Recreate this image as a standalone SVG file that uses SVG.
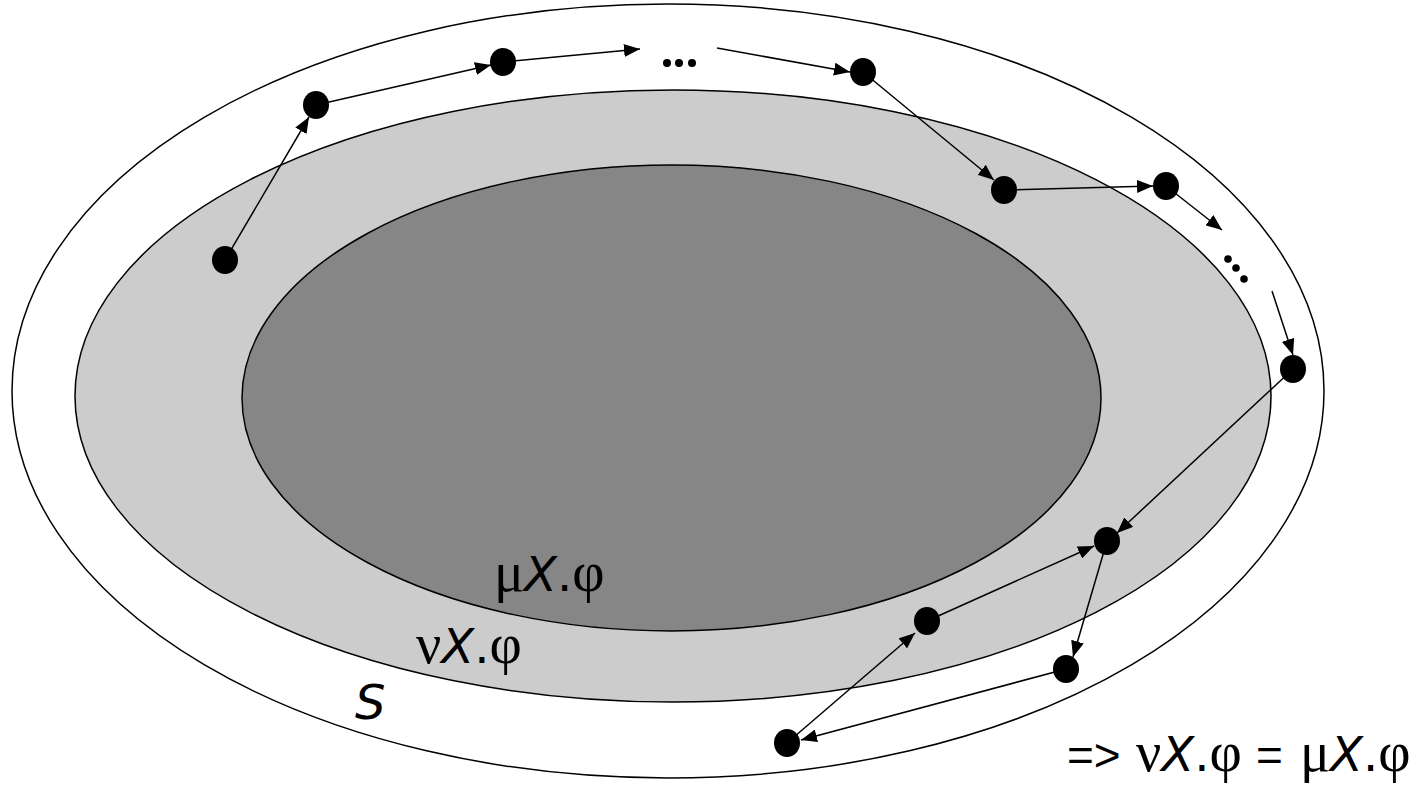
<svg xmlns="http://www.w3.org/2000/svg" width="1427" height="787" viewBox="0 0 1427 787">
<defs>
<marker id="ah" markerUnits="userSpaceOnUse" markerWidth="17" markerHeight="13" refX="16" refY="6.5" orient="auto">
<path d="M0,0 L16,6.5 L0,13 Z" fill="#000"/>
</marker>
<style>
.reg{stroke:#000;stroke-width:1.5}
.dot{fill:#000}
.e{stroke:#000;stroke-width:1.5;fill:none;marker-end:url(#ah)}
.t{font-family:"DejaVu Sans",sans-serif;font-size:48px;fill:#000}
.g{font-family:"Liberation Serif",serif;font-size:56px}
.i{font-style:italic}
.o{font-family:"Liberation Sans",sans-serif;font-size:46px}
</style>
</defs>
<rect width="1427" height="787" fill="#fff"/>
<g id="S"><ellipse class="reg" cx="668" cy="391" rx="656" ry="387" fill="#fff"/></g>
<g id="nu"><ellipse class="reg" cx="673" cy="396" rx="598" ry="306" fill="#cccccc"/></g>
<g id="mu"><ellipse class="reg" cx="671.5" cy="398" rx="429.5" ry="233" fill="#868686"/></g>
<g id="labels">
<text class="t" x="494" y="591"><tspan class="g">μ</tspan><tspan class="i">X</tspan>.<tspan class="g">φ</tspan></text>
<text class="t" x="416" y="663"><tspan class="g">ν</tspan><tspan class="i">X</tspan>.<tspan class="g">φ</tspan></text>
<text class="t i" x="355" y="719">S</text>
<text class="t" x="1067" y="771"><tspan class="o">=&gt;</tspan><tspan x="1136" class="g">ν</tspan><tspan class="i">X</tspan>.<tspan class="g">φ</tspan><tspan x="1256" class="o">=</tspan><tspan x="1300" class="g">μ</tspan><tspan class="i">X</tspan>.<tspan class="g">φ</tspan></text>
</g>
<g id="connectors">
<line class="e" x1="225" y1="260" x2="309" y2="117"/>
<line class="e" x1="316" y1="105" x2="491" y2="65"/>
<line class="e" x1="503" y1="62" x2="640" y2="49"/>
<line class="e" x1="717" y1="48" x2="850" y2="72"/>
<line class="e" x1="863" y1="72" x2="994" y2="180"/>
<line class="e" x1="1004" y1="190" x2="1153" y2="186"/>
<line class="e" x1="1166" y1="186" x2="1222" y2="230"/>
<line class="e" x1="1272" y1="291" x2="1293" y2="355"/>
<line class="e" x1="1293" y1="369" x2="1117" y2="533"/>
<line class="e" x1="1107" y1="541" x2="1073" y2="657"/>
<line class="e" x1="1066" y1="669" x2="801" y2="740"/>
<line class="e" x1="787" y1="743" x2="915" y2="633"/>
<line class="e" x1="927" y1="621" x2="1094" y2="546"/>
</g>
<g id="ellipsis1"><circle class="dot" cx="667" cy="63" r="4"/><circle class="dot" cx="679" cy="63" r="4"/><circle class="dot" cx="692" cy="63" r="4"/></g>
<g id="ellipsis2"><circle class="dot" cx="1228" cy="259" r="3.8"/><circle class="dot" cx="1236" cy="268" r="3.8"/><circle class="dot" cx="1244" cy="279" r="3.8"/></g>
<g id="n1"><ellipse class="dot" cx="225" cy="260" rx="13" ry="14"/></g>
<g id="n2"><ellipse class="dot" cx="316" cy="105" rx="13" ry="14"/></g>
<g id="n3"><ellipse class="dot" cx="503" cy="62" rx="13" ry="14"/></g>
<g id="n4"><ellipse class="dot" cx="863" cy="72" rx="13" ry="14"/></g>
<g id="n5"><ellipse class="dot" cx="1004" cy="190" rx="13" ry="14"/></g>
<g id="n6"><ellipse class="dot" cx="1166" cy="186" rx="13" ry="14"/></g>
<g id="n7"><ellipse class="dot" cx="1293" cy="369" rx="13" ry="14"/></g>
<g id="n8"><ellipse class="dot" cx="1107" cy="541" rx="13" ry="14"/></g>
<g id="n9"><ellipse class="dot" cx="927" cy="621" rx="13" ry="14"/></g>
<g id="n10"><ellipse class="dot" cx="1066" cy="669" rx="13" ry="14"/></g>
<g id="n11"><ellipse class="dot" cx="787" cy="743" rx="13" ry="14"/></g>
</svg>
